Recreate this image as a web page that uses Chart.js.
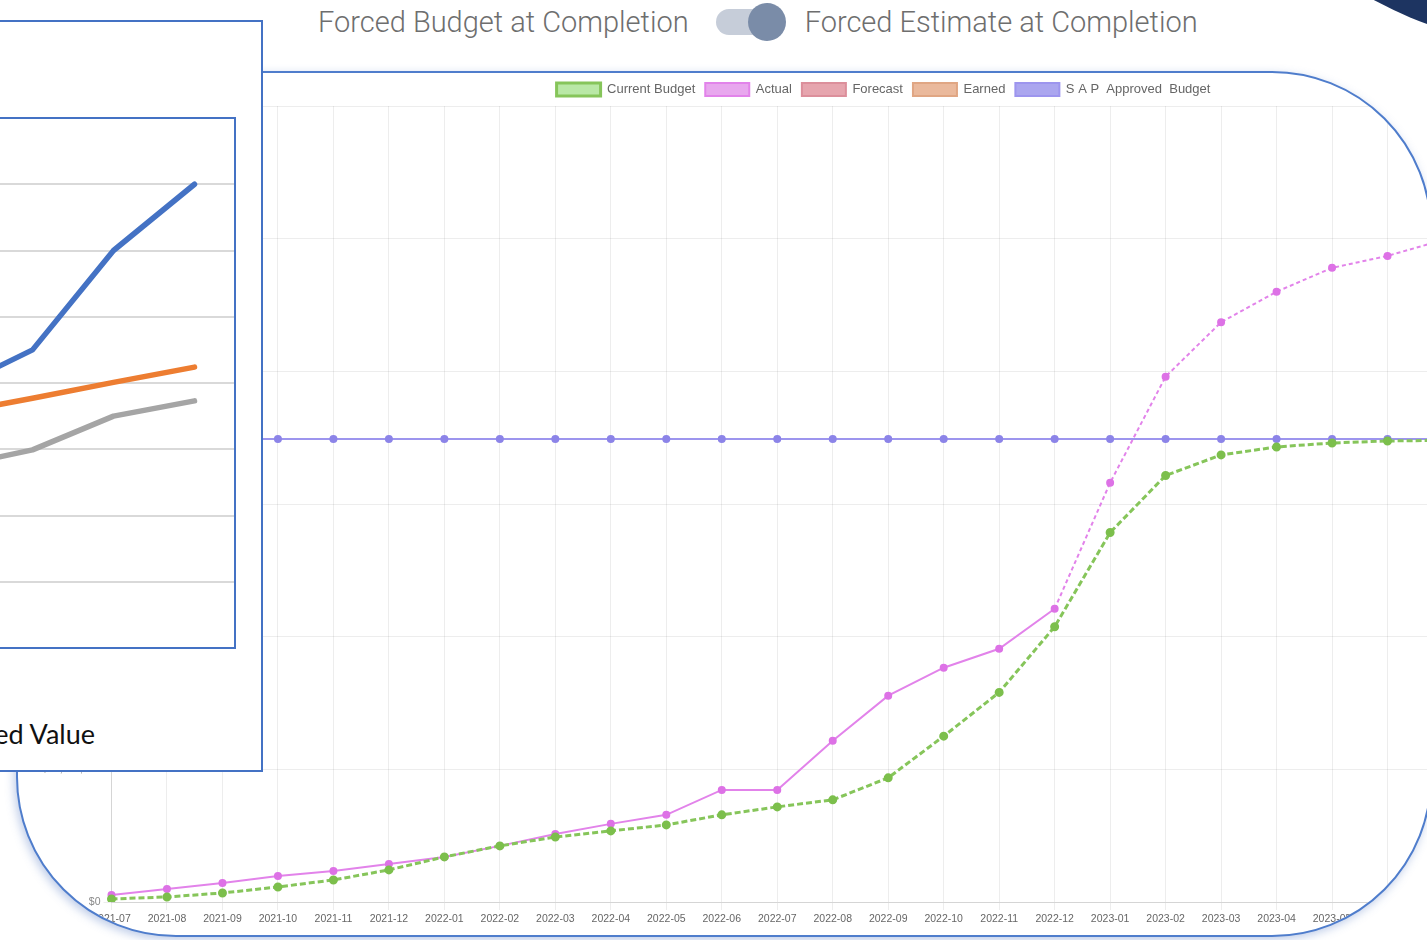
<!DOCTYPE html>
<html>
<head>
<meta charset="utf-8">
<script src="https://cdn.jsdelivr.net/npm/chart.js@4.4.1/dist/chart.umd.min.js"></script>
<style>
  html, body { margin: 0; padding: 0; background: #fff; }
  body { position: relative; width: 1427px; height: 940px; overflow: hidden; font-family: 'Liberation Sans', Arial, sans-serif; }
  #navy { position: absolute; left: 1178px; top: -706px; width: 752px; height: 752px; border-radius: 50%; background: #1d3461; }
  #toggleRow { position: absolute; left: 318px; top: 3px; height: 38px; display: flex; align-items: center;
    color: #6e6e6e; font-family: Roboto, 'Liberation Sans', sans-serif; font-weight: 300; font-size: 29px; white-space: nowrap; }
  .switch { position: relative; width: 70px; height: 38px; margin: 0 19px 0 27px; }
  .switch .track { position: absolute; left: 0; top: 6px; width: 56px; height: 26px; border-radius: 13px; background: #c6cdd9; }
  .switch .knob { position: absolute; left: 32px; top: 0; width: 38px; height: 38px; border-radius: 50%; background: #7a8ca8; }
  #frame { position: absolute; left: 16px; top: 71px; width: 1416px; height: 866px; box-sizing: border-box;
    border: 2.5px solid #4f7dcc; border-radius: 160px; overflow: hidden; background: #fff;
    box-shadow: -2px 3px 10px rgba(70, 110, 190, 0.35); }
  #frame canvas { position: absolute; left: 0; top: 0; filter: blur(0.5px); }
  #inset { position: absolute; left: -10px; top: 20px; width: 273px; height: 752px; box-sizing: border-box;
    border: 2px solid #4472c4; background: #fff; overflow: hidden; z-index: 2; }
  #inset canvas { position: absolute; left: -292px; top: 78px; }
  #insetLegend { position: absolute; right: 166px; top: 697px; line-height: 30px; white-space: nowrap;
    font-family: Lato, 'Open Sans', sans-serif; font-size: 27px; color: #111; }
  #insetLegend .item { display: inline-block; margin-left: 30px; }
  #insetLegend .mark { display: inline-block; width: 30px; height: 5px; vertical-align: middle; margin-right: 8px; }
</style>
</head>
<body>
<div id="navy"></div>
<div id="toggleRow">
  <span>Forced Budget at Completion</span>
  <span class="switch"><span class="track"></span><span class="knob"></span></span>
  <span>Forced Estimate at Completion</span>
</div>
<div id="frame"><canvas id="mainChart" width="1432" height="853"></canvas></div>
<div id="inset"><canvas id="insetChart" width="540" height="560"></canvas><div id="insetLegend"></div></div>
<script>
// ── Main chart data (USD) ─────────────────────────────────────────
var months = ['2021-07', '2021-08', '2021-09', '2021-10', '2021-11', '2021-12',
  '2022-01', '2022-02', '2022-03', '2022-04', '2022-05', '2022-06', '2022-07',
  '2022-08', '2022-09', '2022-10', '2022-11', '2022-12', '2023-01', '2023-02',
  '2023-03', '2023-04', '2023-05', '2023-06', '2023-07'];

var currentBudget = [230000, 380000, 680000, 1130000, 1660000, 2420000, 3400000,
  4230000, 4900000, 5360000, 5810000, 6570000, 7170000, 7700000, 9360000,
  12500000, 15800000, 20750000, 27850000, 32150000, 33700000, 34300000,
  34600000, 34750000, 34800000];

var actual = [530000, 980000, 1430000, 1960000, 2340000, 2870000, 3400000,
  4230000, 5130000, 5890000, 6570000, 8450000, 8450000, 12150000, 15550000,
  17660000, 19090000, 22100000, 31600000, 39600000, 43700000, 46000000,
  47800000, 48700000, 49900000];

var forecast = [];
var earned = [];

var sapApprovedBudget = [34900000, 34900000, 34900000, 34900000, 34900000,
  34900000, 34900000, 34900000, 34900000, 34900000, 34900000, 34900000,
  34900000, 34900000, 34900000, 34900000, 34900000, 34900000, 34900000,
  34900000, 34900000, 34900000, 34900000, 34900000, 34900000];

// first month whose segment onwards is drawn dotted (projection)
var projectedFrom = 17;

// ── Inset (Excel style) chart data ────────────────────────────────
var insetPeriods = ['P1', 'P2', 'P3', 'P4', 'P5', 'P6'];
var insetSeries = ['Planned Value', 'Actual Cost', 'Earned Value'];
var plannedValue = [1.2, 2.6, 3.9, 4.5, 6.0, 7.0];
var actualCost = [2.9, 3.2, 3.54, 3.77, 4.01, 4.24];
var earnedValue = [1.9, 2.4, 2.73, 2.99, 3.5, 3.73];
var insetColors = ['#4472c4', '#ed7d31', '#a5a5a5'];

Chart.defaults.font.family = "'Liberation Sans', Arial, sans-serif";

// legend sits off-centre in the cropped screenshot
var legendShift = {
  id: 'legendShift',
  afterLayout: function (chart) {
    chart.legend.left += 153;
    chart.legend.right += 153;
  }
};

function money(v) { return '$' + Number(v).toLocaleString('en-US'); }

function solidLegendBoxes(chart) {
  var items = Chart.defaults.plugins.legend.labels.generateLabels(chart);
  items.forEach(function (it) { it.lineDash = []; });
  return items;
}

new Chart(document.getElementById('mainChart'), {
  type: 'line',
  data: {
    labels: months,
    datasets: [
      {
        label: 'Current Budget',
        data: currentBudget,
        borderColor: '#86c55a',
        backgroundColor: '#b9e8a6',
        pointBackgroundColor: '#7cbf4c',
        pointBorderColor: '#7cbf4c',
        borderWidth: 3,
        borderDash: [6, 3],
        pointRadius: 3,
        fill: false
      },
      {
        label: 'Actual',
        data: actual,
        borderColor: '#e283ea',
        backgroundColor: '#e8a7ee',
        pointBackgroundColor: '#dd72e6',
        pointBorderColor: '#dd72e6',
        borderWidth: 2,
        pointRadius: 3,
        fill: false,
        segment: {
          borderDash: function (ctx) { return ctx.p0DataIndex >= projectedFrom ? [4, 3] : undefined; }
        }
      },
      {
        label: 'Forecast',
        data: forecast,
        borderColor: '#dc8f9b',
        backgroundColor: '#e6a5ae',
        borderWidth: 2,
        fill: false
      },
      {
        label: 'Earned',
        data: earned,
        borderColor: '#e0a683',
        backgroundColor: '#eab99c',
        borderWidth: 2,
        fill: false
      },
      {
        label: 'S A P  Approved  Budget',
        data: sapApprovedBudget,
        borderColor: '#9d95ee',
        backgroundColor: '#aba6ef',
        pointBackgroundColor: '#8c84e8',
        pointBorderColor: '#8c84e8',
        borderWidth: 2,
        pointRadius: 3,
        fill: false
      }
    ]
  },
  options: {
    responsive: false,
    animation: false,
    layout: { padding: { left: 0, right: 7, top: 0, bottom: 0 } },
    scales: {
      x: {
        grid: { color: 'rgba(0,0,0,0.07)', tickLength: 8 },
        ticks: { autoSkip: false, maxRotation: 0, color: '#666', font: { size: 10.5 } },
        afterFit: function (s) { s.height = 24; s.paddingRight = 0; s.paddingLeft = 0; }
      },
      y: {
        min: 0,
        max: 60000000,
        grid: { color: 'rgba(0,0,0,0.07)' },
        ticks: { stepSize: 10000000, color: '#888', font: { size: 10.5 }, callback: money },
        afterFit: function (s) { s.width = 93.5; }
      }
    },
    plugins: {
      legend: {
        labels: { boxWidth: 44, boxHeight: 13, color: '#666', font: { size: 13 }, generateLabels: solidLegendBoxes }
      },
      tooltip: { enabled: false }
    }
  },
  plugins: [legendShift]
});

// thin blue frame round the Excel plot area
var plotBorder = {
  id: 'plotBorder',
  beforeDatasetsDraw: function (chart) {
    var a = chart.chartArea, c = chart.ctx;
    c.save();
    c.strokeStyle = '#4472c4';
    c.lineWidth = 2;
    c.strokeRect(a.left, a.top, a.right - a.left, a.bottom - a.top);
    c.restore();
  }
};

new Chart(document.getElementById('insetChart'), {
  type: 'line',
  data: {
    labels: insetPeriods,
    datasets: [
      { label: insetSeries[0], data: plannedValue, borderColor: insetColors[0] },
      { label: insetSeries[1], data: actualCost, borderColor: insetColors[1] },
      { label: insetSeries[2], data: earnedValue, borderColor: insetColors[2] }
    ]
  },
  options: {
    responsive: false,
    animation: false,
    layout: { padding: { left: 49, right: 5, top: 18, bottom: 12 } },
    elements: {
      point: { radius: 0 },
      line: { borderWidth: 5.5, borderCapStyle: 'round', borderJoinStyle: 'round', tension: 0 }
    },
    scales: {
      x: {
        offset: true,
        grid: { display: false, drawTicks: false },
        border: { display: false },
        ticks: { display: false }
      },
      y: {
        min: 0,
        max: 8,
        grid: { color: '#d9d9d9', lineWidth: 2, drawTicks: false },
        border: { display: false },
        ticks: { display: false, stepSize: 1 }
      }
    },
    plugins: { legend: { display: false }, tooltip: { enabled: false } }
  },
  plugins: [plotBorder]
});

// Excel-style legend under the inset
var legendBox = document.getElementById('insetLegend');
insetSeries.forEach(function (name, i) {
  var item = document.createElement('span');
  item.className = 'item';
  var mark = document.createElement('span');
  mark.className = 'mark';
  mark.style.background = insetColors[i];
  item.appendChild(mark);
  item.appendChild(document.createTextNode(name));
  legendBox.appendChild(item);
});
</script>
</body>
</html>
